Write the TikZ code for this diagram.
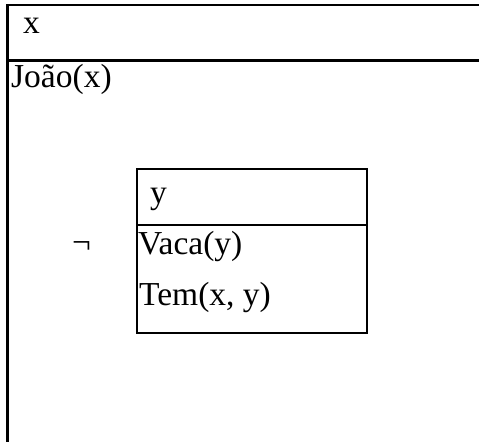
\documentclass[tikz,border=0pt]{standalone}
\usepackage{fontspec}
\setmainfont{Liberation Serif}
\begin{document}
\begin{tikzpicture}[x=1pt,y=-1pt,
  drsline/.style={line width=2.5pt},
  innerline/.style={line width=2pt},
  term/.style={anchor=base west,inner sep=0pt,font=\fontsize{33.5}{40}\selectfont}]
\useasboundingbox (0,0) rectangle (479,442);
% outer box (open to the right and bottom)
\draw[drsline] (479,5) -- (7.5,5) -- (7.5,442);
\draw[drsline] (7.5,60.5) -- (479,60.5);
\node[term] (refx) at (23,33) {x};
\node[term] (joao) at (11,87) {João(x)};
% negated sub-box
\draw[innerline] (137,169) rectangle (367,333);
\draw[innerline] (137,225) -- (367,225);
\node[term] (refy) at (150,203) {y};
\node[term] (vaca) at (138,254) {Vaca(y)};
\node[term] (tem) at (139,305) {Tem(x, y)};
\node[term] (neg) at (72,253) {¬};
\end{tikzpicture}
\end{document}
